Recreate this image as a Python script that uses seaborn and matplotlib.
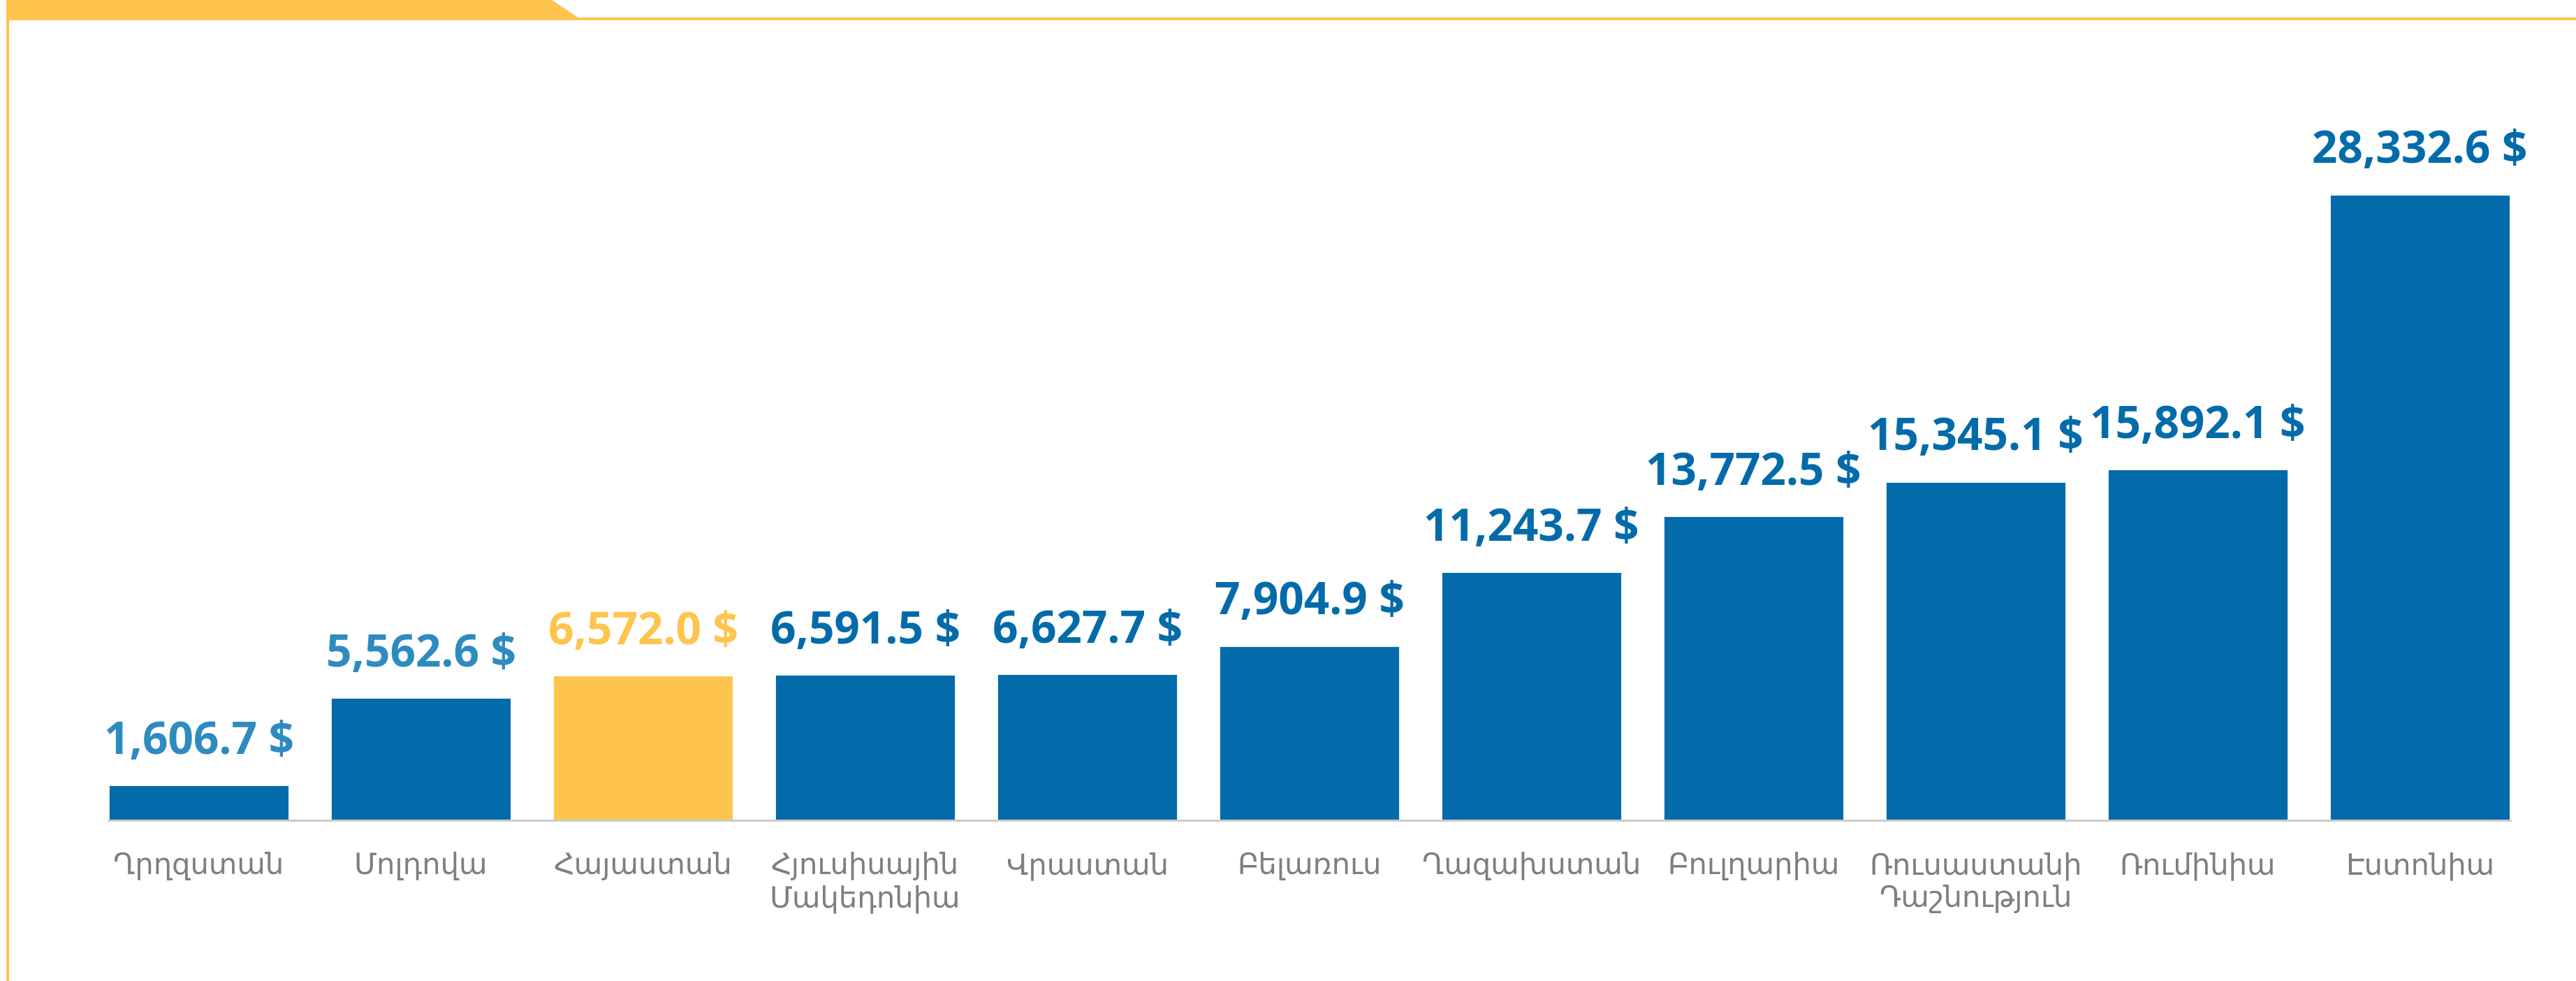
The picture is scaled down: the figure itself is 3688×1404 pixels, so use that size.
import matplotlib
matplotlib.use("Agg")
import matplotlib.pyplot as plt
from matplotlib.patches import Polygon
import seaborn as sns
import pandas as pd

# GDP per capita, USD
countries = [
    "Ղրղզստան", "Մոլդովա", "Հայաստան", "Հյուսիսային\nՄակեդոնիա", "Վրաստան",
    "Բելառուս", "Ղազախստան", "Բուլղարիա", "Ռուսաստանի\nԴաշնություն",
    "Ռումինիա", "Էստոնիա",
]
values = [1606.7, 5562.6, 6572.0, 6591.5, 6627.7, 7904.9,
          11243.7, 13772.5, 15345.1, 15892.1, 28332.6]

BLUE = "#036BAA"
LIGHT_BLUE = "#2E8BC0"
YELLOW = "#FFC44D"
GREY_TXT = "#7F7F7F"

bar_colors = [YELLOW if c == "Հայաստան" else BLUE for c in countries]
label_colors = [LIGHT_BLUE, LIGHT_BLUE, YELLOW] + [BLUE] * 8

W, H = 3688, 1404
DPI = 200

sns.set_theme(style="white")
plt.rcParams["font.family"] = ["Open Sans", "DejaVu Sans"]

fig = plt.figure(figsize=(W / DPI, H / DPI), dpi=DPI, facecolor="white")
ax = fig.add_axes([155 / W, 1 - 1174 / H, (3594 - 155) / W, (1174 - 225) / H])

df = pd.DataFrame({"country": countries, "value": values})
sns.barplot(data=df, x="country", y="value", hue="country", palette=bar_colors,
            legend=False, width=0.815, saturation=1, ax=ax, zorder=2)

half = 0.815 / 2
ax.set_xlim(-half, len(countries) - 1 + half)
ax.set_ylim(0, 30000)

for i, (v, col) in enumerate(zip(values, label_colors)):
    ax.annotate(f"{v:,.1f} $", (i, v), xytext=(0, 16), textcoords="offset points",
                ha="center", va="baseline", fontsize=23, fontweight="bold",
                color=col)

for s in ("top", "right", "left"):
    ax.spines[s].set_visible(False)
ax.spines["bottom"].set_color("#C8C8C8")
ax.spines["bottom"].set_linewidth(1.0)
ax.spines["bottom"].set_zorder(3)
ax.set_yticks([])
ax.set_xlabel("")
ax.set_ylabel("")
ax.tick_params(axis="x", length=0, pad=16)
for lbl in ax.get_xticklabels():
    lbl.set_family("DejaVu Sans")
    lbl.set_fontsize(15)
    lbl.set_color(GREY_TXT)
    lbl.set_linespacing(1.15)


def fig_poly(pts, color):
    xy = [(x / W, 1 - y / H) for x, y in pts]
    fig.patches.append(Polygon(xy, closed=True, transform=fig.transFigure,
                               facecolor=color, edgecolor="none", zorder=5))


# top decoration band and frame lines
fig_poly([(9, 0), (790, 0), (832, 28), (9, 28)], YELLOW)
fig_poly([(9, 25), (W, 25), (W, 29), (9, 29)], YELLOW)
fig_poly([(9, 0), (13, 0), (13, H), (9, H)], YELLOW)

fig.savefig("out.png", dpi=DPI, facecolor="white")
plt.close(fig)
